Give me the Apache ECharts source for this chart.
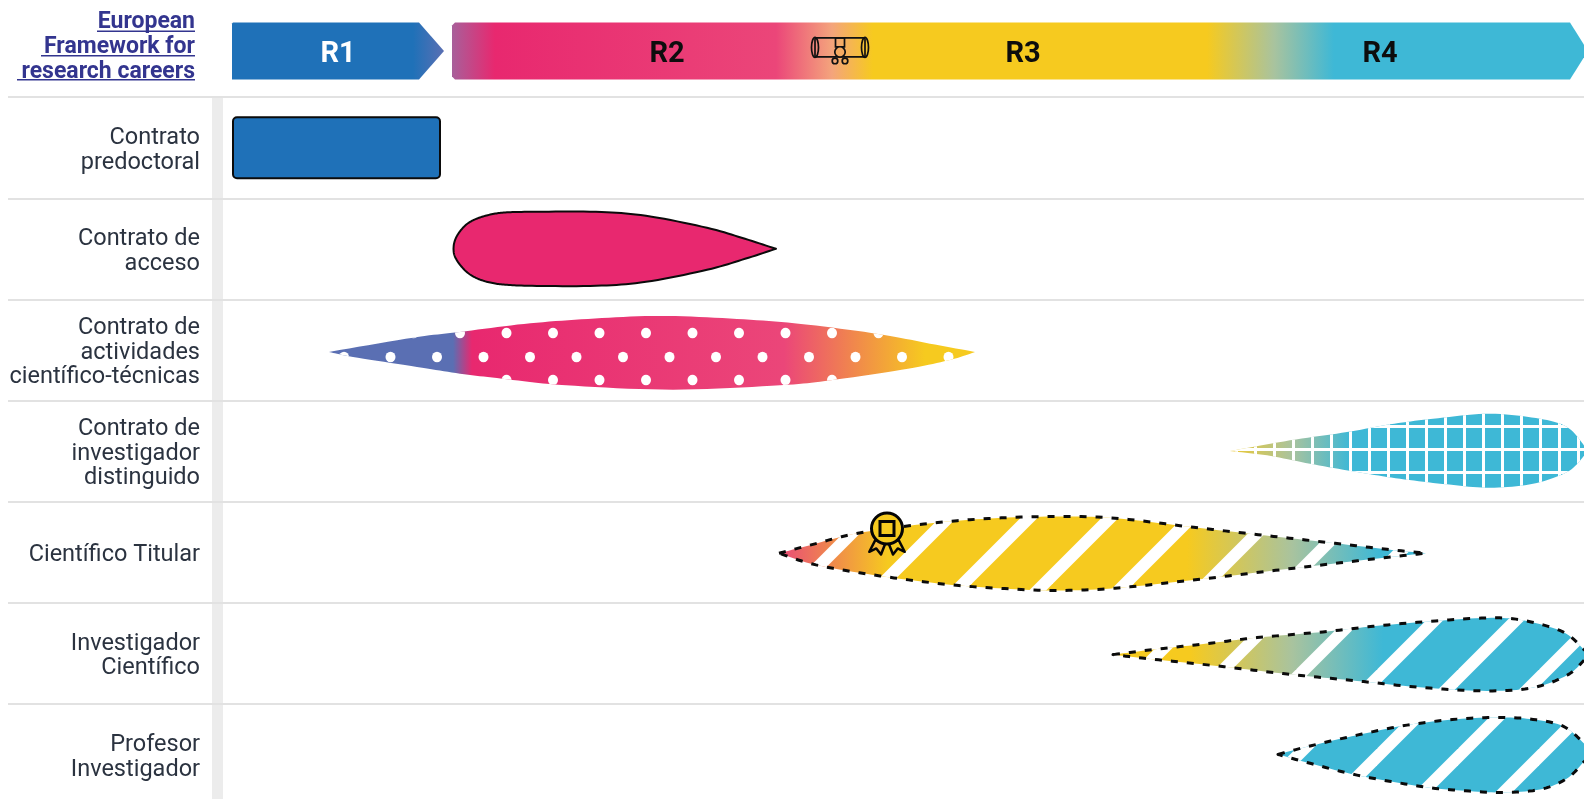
<!DOCTYPE html>
<html><head><meta charset="utf-8">
<style>html,body{margin:0;padding:0;background:#fff}#c{width:1584px;height:799px}</style>
<script src="https://cdn.jsdelivr.net/npm/echarts@6/dist/echarts.min.js"></script>
</head><body><div id="c"></div>
<script>
// ---- categories / labels
const rowLabels = ['', 'Contrato\npredoctoral', 'Contrato de\nacceso', 'Contrato de\nactividades\ncientífico-técnicas',
  'Contrato de\ninvestigador\ndistinguido', 'Científico Titular', 'Investigador\nCientífico', 'Profesor\nInvestigador'];
const headerTitle = ['European', 'Framework for', 'research careers'];
const stageLabels = ['R1', 'R2', 'R3', 'R4'];
const stageLabelAt = [106, 435, 791, 1148];
const r1Span = [0, 187, 212];
const restSpan = [220, 1338, 1356];
// ---- colours
const BLUE='#1f71b8', MAG='#e8286f', PINK='#eb4679', YEL='#f6ca1f', CYAN='#3eb8d6', PURP='#5a6fb3', SAGE='#a9c39e';
// ---- stage gradient
const headStopAt = [220, 263, 544, 600, 641, 975, 1042, 1102, 1356];
const headStopCol = ['#a85f9a', MAG, PINK, '#f4a47c', YEL, YEL, SAGE, CYAN, CYAN];
const r1StopAt = [0, 181, 212];
const r1StopCol = [BLUE, BLUE, '#5a6fb3'];
// ---- predoctoral block
const predocSpan = [0, 209];
const predocThick = 61;
// ---- acceso
const accesoTopX = [221.5,222,224,228,234,241,250,262,275,300,364,414,475,513,544];
const accesoTopH = [0,5,11,17.5,24,28.5,32,35,36.5,37,37,33,21,10,0];
const accesoBotH = [0,5,10,16,22.5,27.5,31.5,34.5,36,37,37,33,21,10,0];
// ---- actividades
const actTopX = [97,181,228,292,356,428,505,569,646,698,743];
const actTopH = [0,14.3,20,28,33,36,33,28,18,8.3,0];
const actBotX = [97,121,185,228,270,334,441,548,599,676,719,743];
const actBotH = [0,5,15,21.7,26.7,33.3,37.7,33.3,28.3,16.7,7.7,0];
const actStopAt = [97,221,240,552,693,743];
const actStopCol = [PURP,PURP,MAG,PINK,YEL,YEL];
// ---- distinguido
const disTopX = [998,1058,1115,1158,1201,1258,1308,1335,1351,1353];
const disTopH = [0,10.7,19,26.7,32.3,37.3,32.3,24,7,0];
const disBotX = [998,1035,1078,1125,1168,1215,1258,1301,1335,1351,1353];
const disBotH = [0,4.3,12.7,21,27.7,33.3,36.7,32.7,21,6,0];
const disStopAt = [998,1060,1118,1353];
const disStopCol = ['#eec92f',SAGE,CYAN,CYAN];
// ---- titular
const titTopX = [547,579,626,699,763,827,883,955,1019,1096,1160,1194];
const titTopH = [0,8.3,20,30,35,36.7,35,26.7,19.3,10.7,3.3,0];
const titBotX = [547,584,648,720,784,827,883,968,1062,1148,1194];
const titBotH = [0,11.7,22.7,31.7,36,37.3,35,26,15,5,0];
const titStopAt = [547,656,955,1060,1148,1194];
const titStopCol = ['#e94a78',YEL,YEL,SAGE,CYAN,CYAN];
// ---- investigador cientifico
const invTopX = [881,915,975,1025,1091,1141,1191,1255,1291,1331,1352,1357];
const invTopH = [0,4.3,11,17,22.7,28.3,32.7,36.7,34.3,22.7,5,0];
const invBotX = [881,915,985,1058,1125,1191,1255,1301,1335,1352,1357];
const invBotH = [0,4,11.3,19.7,26.3,33,36.3,33,20.7,5.7,0];
const invStopAt = [881,958,1060,1151,1357];
const invStopCol = [YEL,YEL,SAGE,CYAN,CYAN];
// ---- profesor investigador
const profTopX = [1046,1075,1125,1175,1225,1268,1301,1331,1352,1360];
const profTopH = [0,7.7,19.3,29.3,35.3,37,35,28.3,11,0];
const profBotX = [1046,1075,1125,1191,1225,1268,1308,1335,1352,1360];
const profBotH = [0,8,20.7,32.3,35.7,38,35,24,7.3,0];
// ---- milestones
const diplomaAt = 608;
const medalAt = 655;

function dotTile(){const c=document.createElement('canvas');c.width=93;c.height=47;const g=c.getContext('2d');g.fillStyle='#fff';
  [[88,4],[41.5,4],[65,28],[18.5,28]].forEach(p=>{[-93,0,93].forEach(dx=>[-47,0,47].forEach(dy=>{g.beginPath();g.ellipse(p[0]+dx,p[1]+dy,5,5.2,0,0,7);g.fill();}));});return c;}
function gridTile(){const c=document.createElement('canvas');c.width=19;c.height=23;const g=c.getContext('2d');g.fillStyle='#fff';
  g.fillRect(0,0,3,23);g.fillRect(0,11,19,3);return c;}
function stripeTile(phase){const W=81,w=17,c=document.createElement('canvas');c.width=W;c.height=W;const g=c.getContext('2d');g.fillStyle='#fff';
  for(let k=-1;k<3;k++){const x=phase+k*W;g.beginPath();g.moveTo(x-w/2,0);g.lineTo(x+w/2,0);g.lineTo(x+w/2-W,W);g.lineTo(x-w/2-W,W);g.closePath();g.fill();}return c;}

const shapes = [
 {row:2,dy:0,  tx:accesoTopX,th:accesoTopH,bx:accesoTopX,bh:accesoBotH,solid:MAG,stroke:'solid'},
 {row:3,dy:2,  tx:actTopX,th:actTopH,bx:actBotX,bh:actBotH,at:actStopAt,col:actStopCol,tile:dotTile()},
 {row:4,dy:0,  tx:disTopX,th:disTopH,bx:disBotX,bh:disBotH,at:disStopAt,col:disStopCol,tile:gridTile()},
 {row:5,dy:1,  tx:titTopX,th:titTopH,bx:titBotX,bh:titBotH,at:titStopAt,col:titStopCol,tile:stripeTile(8),stroke:'dash'},
 {row:6,dy:1.3,tx:invTopX,th:invTopH,bx:invBotX,bh:invBotH,at:invStopAt,col:invStopCol,tile:stripeTile(30),stroke:'dash'},
 {row:7,dy:0,  tx:profTopX,th:profTopH,bx:profBotX,bh:profBotH,solid:CYAN,tile:stripeTile(28),stroke:'dash'}
];

function spline(p){const out=[];for(let i=0;i<p.length-1;i++){const a=p[Math.max(i-1,0)],b=p[i],c=p[i+1],d=p[Math.min(i+2,p.length-1)];
  for(let k=0;k<10;k++){const t=k/10,t2=t*t,t3=t2*t;
   const h=(j)=>b[j]+ (t*(c[j]-a[j])/2) + t2*(a[j]-2.5*b[j]+2*c[j]-.5*d[j]) + t3*(-.5*a[j]+1.5*b[j]-1.5*c[j]+.5*d[j]);
   out.push([h(0),h(1)]);}}out.push(p[p.length-1]);return out;}
function grad(api,at,col,y){const x0=api.coord([at[0],1])[0],x1=api.coord([at[at.length-1],1])[0],s=at[at.length-1]-at[0];
  return new echarts.graphic.LinearGradient(x0,y,x1,y,at.map((a,i)=>({offset:(a-at[0])/s,color:col[i]})),true);}

function renderShape(params,api){
  const s=shapes[params.dataIndex],c0=api.coord([0,s.row])[1]+s.dy,band=api.size([0,1])[1]/101.1;
  const top=spline(s.tx.map((x,i)=>[api.coord([x,s.row])[0],c0-s.th[i]*band]));
  const bot=spline(s.bx.map((x,i)=>[api.coord([x,s.row])[0],c0+s.bh[i]*band]));
  const pts=top.concat(bot.reverse());
  const kids=[{type:'polygon',shape:{points:pts},silent:true,style:{fill:s.solid||grad(api,s.at,s.col,c0)}}];
  if(s.tile)kids.push({type:'polygon',shape:{points:pts},silent:true,style:{fill:{image:s.tile,repeat:'repeat'}}});
  if(s.stroke)kids.push({type:'polygon',shape:{points:pts},silent:true,style:{fill:null,stroke:'#0b0b0b',lineJoin:'round',lineWidth:s.stroke==='dash'?3:2,lineDash:s.stroke==='dash'?[7,9]:null}});
  return {type:'group',children:kids};
}
function renderHeader(params,api){
  const c=api.coord([0,0])[1]+4.4,h=28.5,X=v=>api.coord([v,0])[0];
  const kids=[
   {type:'polygon',silent:true,shape:{points:[[X(r1Span[0]),c-h+1],[X(r1Span[0])+1,c-h],[X(r1Span[1]),c-h],[X(r1Span[2]),c],[X(r1Span[1]),c+h],[X(r1Span[0]),c+h]]},style:{fill:grad(api,r1StopAt,r1StopCol,c)}},
   {type:'polygon',silent:true,shape:{points:[[X(restSpan[0]),c-h+3],[X(restSpan[0])+3,c-h],[X(restSpan[1]),c-h],[X(restSpan[2]),c],[X(restSpan[1]),c+h],[X(restSpan[0])+3,c+h],[X(restSpan[0]),c+h-3]]},style:{fill:grad(api,headStopAt,headStopCol,c)}}
  ];
  stageLabels.forEach((t,i)=>kids.push({type:'text',silent:true,x:X(stageLabelAt[i]),y:c+4,style:{text:t,fill:i?'#0d0d0d':'#fff',font:'700 29px Roboto',align:'center',verticalAlign:'middle'}}));
  // diploma
  const dx=X(diplomaAt),dy=c,L={stroke:'#111',lineWidth:1.7,fill:null};
  kids.push(
   {type:'rect',silent:true,shape:{x:dx-25,y:dy-13,width:50,height:19,r:1},style:L},
   {type:'ellipse',silent:true,shape:{cx:dx-25,cy:dy-3.5,rx:3.5,ry:10},style:L},
   {type:'ellipse',silent:true,shape:{cx:dx+25,cy:dy-3.5,rx:3.5,ry:10},style:L},
   {type:'rect',silent:true,shape:{x:dx-4.5,y:dy-13,width:9,height:9},style:L},
   {type:'circle',silent:true,shape:{cx:dx-5,cy:dy+10,r:2.8},style:L},
   {type:'circle',silent:true,shape:{cx:dx+5,cy:dy+10,r:2.8},style:L},
   {type:'circle',silent:true,shape:{cx:dx,cy:dy+1,r:5.2},style:{stroke:'#111',lineWidth:1.7,fill:'#f5ab62'}}
  );
  return {type:'group',children:kids};
}
function renderPredoc(params,api){
  const a=api.coord([predocSpan[0],1]),b=api.coord([predocSpan[1],1]),band=api.size([0,1])[1]/101.1,h=predocThick*band;
  return {type:'rect',silent:true,shape:{x:a[0]+1,y:a[1]-h/2,width:b[0]-a[0]-2,height:h,r:4},style:{fill:BLUE,stroke:'#0b0b0b',lineWidth:2}};
}
function renderMedal(params,api){
  const p=api.coord([medalAt,5]),x=p[0],y=p[1]-23.7,S={stroke:'#050505',lineWidth:3,fill:YEL};
  const rib=m=>[[x+m*11.7,y+11.7],[x+m*17.7,y+23.3],[x+m*10.7,y+20],[x+m*6,y+26],[x+m*1.7,y+15]];
  return {type:'group',children:[
   {type:'polygon',silent:true,shape:{points:rib(-1)},style:{stroke:'#050505',lineWidth:2.5,lineJoin:'round',fill:'#f5b83a'}},
   {type:'polygon',silent:true,shape:{points:rib(1)},style:{stroke:'#050505',lineWidth:2.5,lineJoin:'round',fill:YEL}},
   {type:'circle',silent:true,shape:{cx:x,cy:y,r:15.5},style:S},
   {type:'rect',silent:true,shape:{x:x-7,y:y-7,width:14,height:14},style:{stroke:'#050505',lineWidth:3,fill:null}}
  ]};
}

const headerY=[22.5,47.5,72], underY=[30.5,55,79], underX=[97,41,17];
const gfx=[{type:'rect',z:0,silent:true,shape:{x:212,y:97,width:11,height:702},style:{fill:'#ececec'}}];
headerTitle.forEach((t,i)=>{
  gfx.push({type:'text',z:5,silent:true,x:195,y:headerY[i],style:{text:t,fill:'#33358f',font:'700 23px Roboto',align:'right',verticalAlign:'middle'}});
  gfx.push({type:'rect',z:5,silent:true,shape:{x:underX[i],y:underY[i],width:195-underX[i],height:1.6},style:{fill:'#33358f'}});
});

const chart=echarts.init(document.getElementById('c'),null,{renderer:'canvas'});
chart.setOption({
  animation:false,
  grid:{left:8,top:-4,width:1576,height:809,containLabel:false,outerBoundsMode:'none'},
  xAxis:{type:'value',min:-224,max:1352,show:false},
  yAxis:{type:'category',inverse:true,data:rowLabels,
    axisLine:{show:false},axisTick:{show:false},
    splitLine:{show:true,interval:0,lineStyle:{color:'#e2e2e2',width:2}},
    axisLabel:{interval:0,margin:-192,align:'right',
      formatter:v=>v?'{s| }\n'+v.split('\n').map(l=>'{t|'+l+'}').join('\n'):'',
      rich:{s:{fontSize:1,lineHeight:6,height:6},t:{color:'#2b3340',fontFamily:'Roboto',fontSize:23.5,lineHeight:24.5}}}},
  graphic:gfx,
  series:[
   {type:'custom',coordinateSystem:'cartesian2d',clip:false,silent:true,z:3,data:[[0,0]],renderItem:renderHeader},
   {type:'custom',coordinateSystem:'cartesian2d',clip:false,silent:true,z:3,data:[[0,1]],renderItem:renderPredoc},
   {type:'custom',coordinateSystem:'cartesian2d',clip:false,silent:true,z:3,data:shapes.map(s=>[0,s.row]),renderItem:renderShape},
   {type:'custom',coordinateSystem:'cartesian2d',clip:false,silent:true,z:4,data:[[0,5]],renderItem:renderMedal}
  ]
});
</script></body></html>
